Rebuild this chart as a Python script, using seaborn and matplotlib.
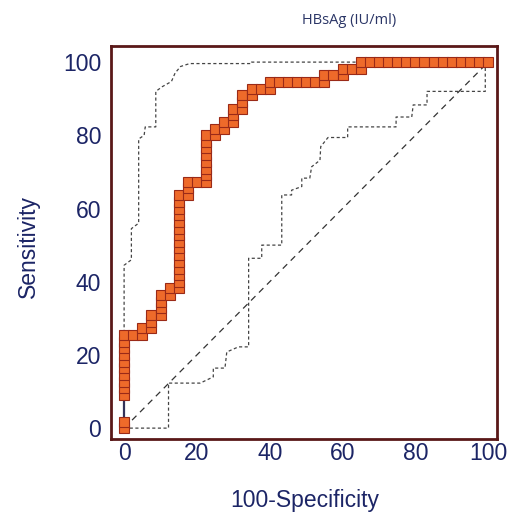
import matplotlib
matplotlib.use("Agg")
import matplotlib.pyplot as plt
import seaborn as sns
import numpy as np
from matplotlib.ticker import MultipleLocator

# ROC curve points (100-Specificity, Sensitivity)
fpr = [0, 0, 0, 0, 0, 0, 0, 0, 0, 0, 0, 0,
       2.5, 5.0, 5.0, 7.5, 7.5, 7.5, 10.0, 10.0, 10.0, 10.0, 12.5, 12.5,
       15.0, 15.0, 15.0, 15.0, 15.0, 15.0, 15.0, 15.0, 15.0, 15.0, 15.0, 15.0, 15.0, 15.0, 15.0,
       17.5, 17.5, 17.5, 20.0,
       22.5, 22.5, 22.5, 22.5, 22.5, 22.5, 22.5, 22.5,
       25.0, 25.0, 27.5, 27.5, 30.0, 30.0, 30.0, 32.5, 32.5, 32.5, 35.0, 35.0, 37.5,
       40.0, 40.0, 42.5, 45.0, 47.5, 50.0, 52.5, 55.0, 55.0, 57.5, 60.0, 60.0, 62.5, 65.0,
       65.0, 67.5, 70.0, 72.5, 75.0, 77.5, 80.0, 82.5, 85.0, 87.5, 90.0, 92.5, 95.0, 97.5, 100.0]
sens = [0, 1.8, 9.1, 10.9, 12.7, 14.5, 16.4, 18.2, 20.0, 21.8, 23.6, 25.5,
        25.5, 25.5, 27.3, 27.3, 29.1, 30.9, 30.9, 32.7, 34.5, 36.4, 36.4, 38.2,
        38.2, 40.0, 41.8, 43.6, 45.5, 47.3, 49.1, 50.9, 52.7, 54.5, 56.4, 58.2, 60.0, 61.8, 63.6,
        63.6, 65.5, 67.3, 67.3,
        67.3, 69.1, 70.9, 72.7, 74.5, 76.4, 78.2, 80.0,
        80.0, 81.8, 81.8, 83.6, 83.6, 85.5, 87.3, 87.3, 89.1, 90.9, 90.9, 92.7, 92.7,
        92.7, 94.5, 94.5, 94.5, 94.5, 94.5, 94.5, 94.5, 96.4, 96.4, 96.4, 98.2, 98.2, 98.2,
        100, 100, 100, 100, 100, 100, 100, 100, 100, 100, 100, 100, 100, 100, 100]

# upper confidence bound
up_x = [0, 0, 2.0, 2.0, 4.0, 4.0, 5.5, 5.8, 8.7, 8.7, 10.5, 13.0, 14.0, 15.5, 18.0, 35.0, 35.0, 100]
up_y = [26, 44.5, 46, 54.5, 56, 79, 80, 82.3, 82.3, 92, 93.3, 94.7, 97, 98.8, 99.6, 99.6, 100, 100]

# lower confidence bound
lo_x = [0, 12.2, 12.2, 20.9, 24.5, 24.5, 27.7, 28.2, 31.4, 34.2, 34.2, 37.8, 37.8, 43.3, 43.3,
        46.0, 46.0, 48.8, 48.8, 51.0, 51.5, 53.8, 54.0, 56.0, 61.4, 61.4, 74.7, 74.7, 79.0,
        79.4, 83.2, 83.2, 99.2, 99.2, 100]
lo_y = [0, 0, 12.3, 12.3, 14.0, 16.4, 16.4, 20.8, 22.2, 22.2, 46.4, 46.4, 50.0, 50.0, 63.7,
        63.7, 65.0, 66.0, 68.3, 68.3, 71.4, 73.2, 76.9, 79.4, 79.4, 82.3, 82.3, 85.0, 85.0,
        88.3, 88.3, 92.0, 92.0, 98.7, 100]

diag = [0, 100]

ticks = [0, 20, 40, 60, 80, 100]

maroon = "#5a1818"
navy = "#1c2566"

sns.set_style("white")
plt.rcParams['font.family'] = ['Liberation Sans', 'DejaVu Sans']

fig = plt.figure(figsize=(5.08, 5.14), dpi=100)
ax = fig.add_axes([0.2185, 0.145, 0.759, 0.7655])

sns.lineplot(x=diag, y=diag, ax=ax, color="#333333", lw=0.9, dashes=False)
ax.lines[-1].set_dashes((5, 4))
sns.lineplot(x=up_x, y=up_y, ax=ax, sort=False, estimator=None, color="#444444", lw=0.9)
ax.lines[-1].set_dashes((2.5, 2))
sns.lineplot(x=lo_x, y=lo_y, ax=ax, sort=False, estimator=None, color="#444444", lw=0.9)
ax.lines[-1].set_dashes((2.5, 2))

sns.lineplot(x=fpr, y=sens, ax=ax, sort=False, estimator=None, color="#33335a", lw=1.6,
             marker="s", markersize=6.6, markerfacecolor="#ee6a2a",
             markeredgecolor="#9a2a18", markeredgewidth=0.8)

ax.set_xlim(-3.6, 102.3)
ax.set_ylim(-3.1, 104.4)
ax.set_xticks(ticks)
ax.set_yticks(ticks)
ax.xaxis.set_minor_locator(MultipleLocator(5))
ax.yaxis.set_minor_locator(MultipleLocator(5))
ax.tick_params(which="major", direction="in", length=10, width=1.8, color=maroon,
               labelsize=16.5, labelcolor=navy)
ax.tick_params(which="minor", direction="in", length=5, width=1.4, color=maroon)
ax.tick_params(axis="y", which="major", pad=7)
ax.tick_params(axis="x", which="major", pad=2)

for s in ax.spines.values():
    s.set_color(maroon)
    s.set_linewidth(2.0)
    s.set_visible(True)

ax.set_xlabel("100-Specificity", fontsize=16.5, color=navy, va="center")
ax.set_ylabel("Sensitivity", fontsize=16.5, color=navy, va="center")
ax.xaxis.set_label_coords(0.503, -0.155)
ax.yaxis.set_label_coords(-0.215, 0.49)

fig.text(349 / 508, 1 - 20 / 514, "HBsAg (IU/ml)", fontsize=10.5, color="#2a3566",
         ha="center", va="center", family=["Open Sans", "DejaVu Sans"])

fig.savefig("out.png", dpi=100)
